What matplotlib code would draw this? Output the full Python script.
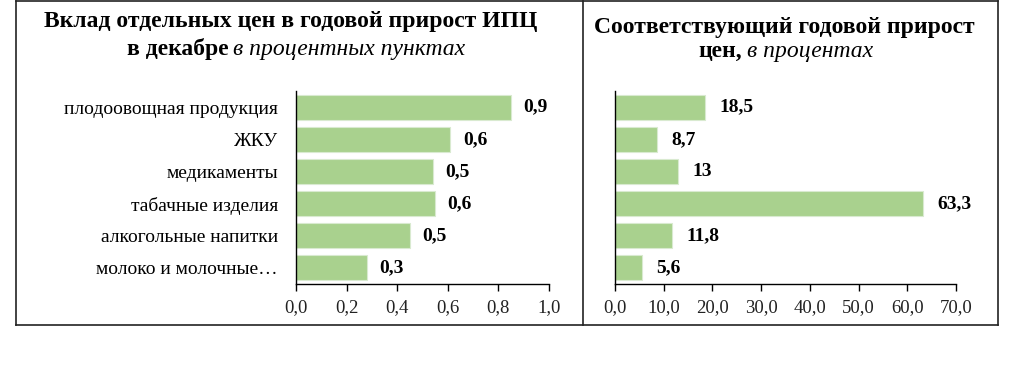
import matplotlib
matplotlib.use('Agg')
import matplotlib.pyplot as plt
from matplotlib.lines import Line2D

plt.rcParams['font.family'] = ['Liberation Serif', 'DejaVu Serif']

# данные
categories = ['плодоовощная продукция', 'ЖКУ', 'медикаменты', 'табачные изделия',
              'алкогольные напитки', 'молоко и молочные…']
contrib = [0.85, 0.61, 0.54, 0.55, 0.45, 0.28]
contrib_labels = ['0,9', '0,6', '0,5', '0,6', '0,5', '0,3']
growth = [18.5, 8.7, 13.0, 63.3, 11.8, 5.6]
growth_labels = ['18,5', '8,7', '13', '63,3', '11,8', '5,6']
left_ticks = [0.0, 0.2, 0.4, 0.6, 0.8, 1.0]
right_ticks = [0, 10, 20, 30, 40, 50, 60, 70]

BAR = '#a9d18e'
W, H = 1024, 372

fig = plt.figure(figsize=(W / 100, H / 100), dpi=100)


def fx(px):
    return px / W


def fy(py):
    return 1 - py / H


def setup(ax, vals, labels, ticks, fmt, lim, off):
    y = list(range(len(vals)))
    ax.barh(y, vals, height=0.78, color=BAR, edgecolor='#d9ead0', linewidth=0.8)
    ax.set_ylim(len(vals) - 0.5, -0.5)
    ax.set_xlim(0, lim)
    ax.set_xticks(ticks)
    ax.set_xticklabels([fmt(t) for t in ticks], fontsize=13.5, color='#222222')
    for s in ['top', 'right']:
        ax.spines[s].set_visible(False)
    ax.spines['left'].set_linewidth(1.0)
    ax.spines['bottom'].set_linewidth(1.0)
    ax.tick_params(axis='x', length=5, width=1, direction='out', pad=6)
    ax.tick_params(axis='y', length=0)
    for yi, v, lab in zip(y, vals, labels):
        ax.annotate(lab, (v, yi), xytext=(off, 0), textcoords='offset points',
                    va='center', ha='left', fontsize=14, fontweight='bold')


ax1 = fig.add_axes([fx(296), fy(284), fx(549) - fx(296), fy(91) - fy(284)])
setup(ax1, contrib, contrib_labels, left_ticks,
      lambda t: f'{t:.1f}'.replace('.', ','), 1.0, 9)
ax1.set_yticks(range(len(categories)))
ax1.set_yticklabels(categories, fontsize=14)
ax1.tick_params(axis='y', pad=13)

ax2 = fig.add_axes([fx(615), fy(284), fx(956) - fx(615), fy(91) - fy(284)])
setup(ax2, growth, growth_labels, right_ticks,
      lambda t: f'{t:.1f}'.replace('.', ','), 70, 10)
ax2.set_yticks([])

# рамки
frame = dict(color='#222222', linewidth=1.2, transform=fig.transFigure)
fig.add_artist(Line2D([fx(16), fx(998)], [fy(1), fy(1)], **frame))
fig.add_artist(Line2D([fx(16), fx(16)], [fy(1), fy(325)], **frame))
fig.add_artist(Line2D([fx(16), fx(998)], [fy(325), fy(325)], **frame))
fig.add_artist(Line2D([fx(998), fx(998)], [fy(1), fy(325)], **frame))
fig.add_artist(Line2D([fx(583), fx(583)], [fy(1), fy(325)], **frame))

renderer = fig.canvas.get_renderer()


def mixed(cx, py, bold, italic, size=17):
    t1 = fig.text(0, fy(py), bold, fontsize=size, fontweight='bold', va='center', ha='left')
    t2 = fig.text(0, fy(py), italic, fontsize=size, fontstyle='italic', va='center', ha='left')
    w1 = t1.get_window_extent(renderer).width
    w2 = t2.get_window_extent(renderer).width
    gap = 5
    x0 = cx - (w1 + gap + w2) / 2
    t1.set_x(fx(x0))
    t2.set_x(fx(x0 + w1 + gap))


fig.text(fx(291), fy(22), 'Вклад отдельных цен в годовой прирост ИПЦ',
         fontsize=17, fontweight='bold', ha='center', va='center')
mixed(296, 49, 'в декабре', 'в процентных пунктах')
fig.text(fx(784), fy(27), 'Соответствующий годовой прирост',
         fontsize=17, fontweight='bold', ha='center', va='center')
mixed(786, 51, 'цен,', 'в процентах')

fig.savefig('out.png', dpi=100)
